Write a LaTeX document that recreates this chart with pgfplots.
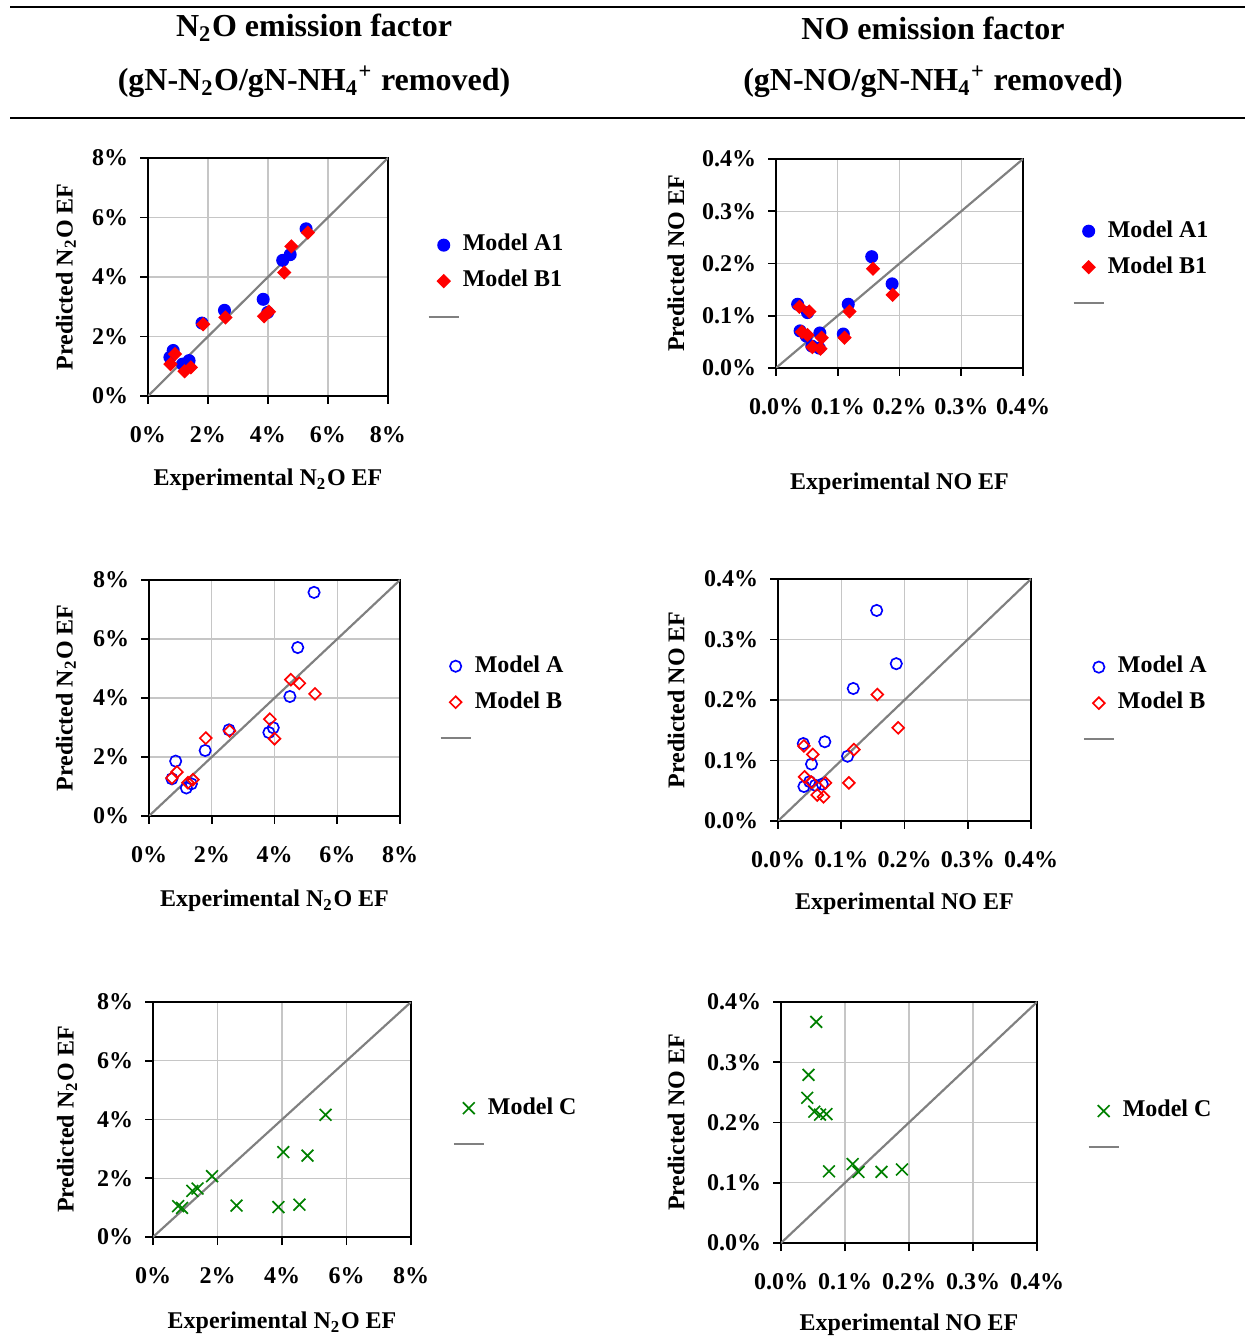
\documentclass[border=0pt]{standalone}
\usepackage{fontspec}
\setmainfont{Liberation Serif}
\usepackage{pgfplots}
\pgfplotsset{compat=1.18}

\newcommand\lbl{\fontsize{7.2}{8.6}\selectfont\bfseries}
\newcommand\hdr{\fontsize{9.6}{11.5}\selectfont\bfseries}

\definecolor{mblue}{RGB}{0,0,255}
\definecolor{mred}{RGB}{255,0,0}
\definecolor{mgreen}{RGB}{0,128,0}

\pgfplotsset{
  panel/.style={
    scale only axis, anchor=south west,
    axis line style={black, line width=0.5pt},
    tick style={black, line width=0.5pt},
    tick align=outside, major tick length=2.4pt,
    xtick pos=bottom, ytick pos=left,
    grid=major, grid style={gray!45, line width=0.4pt},
    ticklabel style={font=\lbl},
    xticklabel style={yshift=-3.3pt},
    label style={font=\lbl},
    xlabel style={anchor=center},
    ylabel style={anchor=center},
    legend cell align=left,
    legend style={draw=none, fill=none, anchor=north west, inner sep=0pt,
      row sep=2.5pt, font=\lbl, yshift=-1.7pt,
      nodes={inner sep=0.9pt, text height=5pt, text depth=1.5pt},
      /tikz/every even column/.append style={column sep=1.2pt}},
  },
  n2o/.style={panel, xmin=0, xmax=8, ymin=0, ymax=8,
    xtick={0,2,4,6,8}, ytick={0,2,4,6,8},
    xticklabels={0\%,2\%,4\%,6\%,8\%}, yticklabels={0\%,2\%,4\%,6\%,8\%},
    xlabel={Experimental N\textsubscript{2}O EF},
    ylabel={Predicted N\textsubscript{2}O EF}},
  no/.style={panel, xmin=0, xmax=0.4, ymin=0, ymax=0.4,
    xtick={0,0.1,0.2,0.3,0.4}, ytick={0,0.1,0.2,0.3,0.4},
    xticklabels={0.0\%,0.1\%,0.2\%,0.3\%,0.4\%},
    yticklabels={0.0\%,0.1\%,0.2\%,0.3\%,0.4\%},
    xlabel={Experimental NO EF}, ylabel={Predicted NO EF}},
  mk/.style={only marks,
    legend image code/.code={\path[draw=none, fill=none] (0pt,-2pt) rectangle (9pt,2pt);
      \draw[##1] plot coordinates {(4.5pt,0pt)};}},
  ln/.style={color=gray, line width=0.65pt,
    legend image code/.code={\draw[##1] (0pt,0pt) -- (9pt,0pt);}},
  fcirc/.style={mk, mark=*, color=mblue, mark size=1.75pt},
  fdiam/.style={mk, mark=square*, color=mred, mark size=1.32pt, mark options={rotate=45}},
  ocirc/.style={mk, mark=o, color=mblue, mark size=1.7pt, mark options={line width=0.5pt}},
  odiam/.style={mk, mark=square, color=mred, mark size=1.25pt, mark options={rotate=45, line width=0.5pt}},
  cross/.style={mk, mark=x, color=mgreen, mark size=2.5pt, mark options={line width=0.5pt}},
}

\begin{document}
\begin{tikzpicture}
\useasboundingbox (0,0) rectangle (373.5pt,401.4pt);
\draw[line width=0.8pt] (3pt,399.3pt) -- (373.5pt,399.3pt);
\draw[line width=0.8pt] (3pt,366pt) -- (373.5pt,366pt);
\node[font=\hdr] at (94.2pt,393pt) {N\textsubscript{2}O emission factor};
\node[font=\hdr] at (94.2pt,376.8pt) {(gN-N\textsubscript{2}O/gN-NH\textsubscript{4}\textsuperscript{+} removed)};
\node[font=\hdr] at (279.9pt,393pt) {NO emission factor};
\node[font=\hdr] at (279.9pt,376.8pt) {(gN-NO/gN-NH\textsubscript{4}\textsuperscript{+} removed)};

% N2O, models A1 / B1
\begin{axis}[n2o, at={(44.4pt,282.6pt)}, width=72pt, height=71.4pt,
  xlabel style={at={(axis description cs:0.5,-0.353)}},
  ylabel style={at={(axis description cs:-0.342,0.5)}},
  legend style={at={(1.1625,0.7185)}}]
\addplot[fcirc] coordinates {(0.73,1.30) (0.84,1.53) (1.15,1.07) (1.37,1.19) (1.80,2.45) (2.55,2.88) (3.84,3.25) (3.99,2.81) (4.49,4.56) (4.74,4.75) (5.27,5.62)};
\addplot[fdiam] coordinates {(0.75,1.07) (0.90,1.41) (1.22,0.83) (1.43,0.96) (1.84,2.41) (2.58,2.64) (3.87,2.68) (4.03,2.83) (4.54,4.15) (4.78,5.03) (5.33,5.49)};
\addplot[ln] coordinates {(0,0) (8,8)};
\legend{Model A1, Model B1, \mbox{}}
\end{axis}

% NO, models A1 / B1
\begin{axis}[no, at={(232.8pt,291pt)}, width=74.1pt, height=62.7pt,
  xlabel style={at={(axis description cs:0.5,-0.555)}},
  ylabel style={at={(axis description cs:-0.405,0.5)}},
  legend style={at={(1.198,0.751)}}]
\addplot[fcirc] coordinates {(0.035,0.122) (0.039,0.071) (0.051,0.106) (0.049,0.061) (0.058,0.042) (0.071,0.067) (0.070,0.038) (0.109,0.065) (0.117,0.122) (0.155,0.213) (0.188,0.161)};
\addplot[fdiam] coordinates {(0.038,0.117) (0.042,0.069) (0.054,0.108) (0.051,0.063) (0.059,0.040) (0.074,0.058) (0.072,0.037) (0.111,0.058) (0.119,0.108) (0.157,0.190) (0.189,0.140)};
\addplot[ln] coordinates {(0,0) (0.4,0.4)};
\legend{Model A1, Model B1, \mbox{}}
\end{axis}

% N2O, models A / B
\begin{axis}[n2o, at={(44.7pt,156.6pt)}, width=75.3pt, height=70.8pt,
  xlabel style={at={(axis description cs:0.5,-0.360)}},
  ylabel style={at={(axis description cs:-0.331,0.5)}},
  legend style={at={(1.155,0.720)}}]
\addplot[ocirc] coordinates {(0.73,1.26) (0.85,1.86) (1.19,0.95) (1.35,1.09) (1.79,2.22) (2.55,2.92) (3.82,2.83) (3.96,2.99) (4.49,4.05) (4.74,5.71) (5.26,7.58)};
\addplot[odiam] coordinates {(0.73,1.29) (0.89,1.49) (1.24,1.13) (1.40,1.23) (1.81,2.64) (2.57,2.88) (3.85,3.28) (4.00,2.62) (4.52,4.62) (4.79,4.50) (5.29,4.14)};
\addplot[ln] coordinates {(0,0) (8,8)};
\legend{Model A, Model B, \mbox{}}
\end{axis}

% NO, models A / B
\begin{axis}[no, at={(233.4pt,155.1pt)}, width=75.9pt, height=72.6pt,
  xlabel style={at={(axis description cs:0.5,-0.343)}},
  ylabel style={at={(axis description cs:-0.403,0.5)}},
  legend style={at={(1.202,0.719)}}]
\addplot[ocirc] coordinates {(0.040,0.128) (0.041,0.057) (0.053,0.094) (0.050,0.065) (0.059,0.059) (0.070,0.061) (0.074,0.131) (0.110,0.107) (0.119,0.219) (0.156,0.348) (0.187,0.260)};
\addplot[odiam] coordinates {(0.041,0.124) (0.055,0.110) (0.042,0.073) (0.053,0.064) (0.062,0.043) (0.072,0.040) (0.075,0.063) (0.112,0.063) (0.120,0.118) (0.157,0.209) (0.190,0.154)};
\addplot[ln] coordinates {(0,0) (0.4,0.4)};
\legend{Model A, Model B, \mbox{}}
\end{axis}

% N2O, model C
\begin{axis}[n2o, at={(45.9pt,30.3pt)}, width=77.4pt, height=70.5pt,
  xlabel style={at={(axis description cs:0.5,-0.366)}},
  ylabel style={at={(axis description cs:-0.333,0.5)}},
  legend style={at={(1.159,0.634)}}]
\addplot[cross] coordinates {(0.78,1.05) (0.90,0.99) (1.22,1.57) (1.38,1.65) (1.83,2.07) (2.59,1.07) (3.89,1.02) (4.04,2.89) (4.54,1.10) (4.79,2.77) (5.35,4.16)};
\addplot[ln] coordinates {(0,0) (8,8)};
\legend{Model C, \mbox{}}
\end{axis}

% NO, model C
\begin{axis}[no, at={(234.3pt,28.5pt)}, width=76.8pt, height=72.3pt,
  xlabel style={at={(axis description cs:0.5,-0.340)}},
  ylabel style={at={(axis description cs:-0.410,0.5)}},
  legend style={at={(1.195,0.631)}}]
\addplot[cross] coordinates {(0.055,0.367) (0.043,0.279) (0.041,0.241) (0.052,0.218) (0.061,0.213) (0.071,0.214) (0.075,0.119) (0.112,0.131) (0.121,0.118) (0.157,0.118) (0.189,0.122)};
\addplot[ln] coordinates {(0,0) (0.4,0.4)};
\legend{Model C, \mbox{}}
\end{axis}
\end{tikzpicture}
\end{document}
